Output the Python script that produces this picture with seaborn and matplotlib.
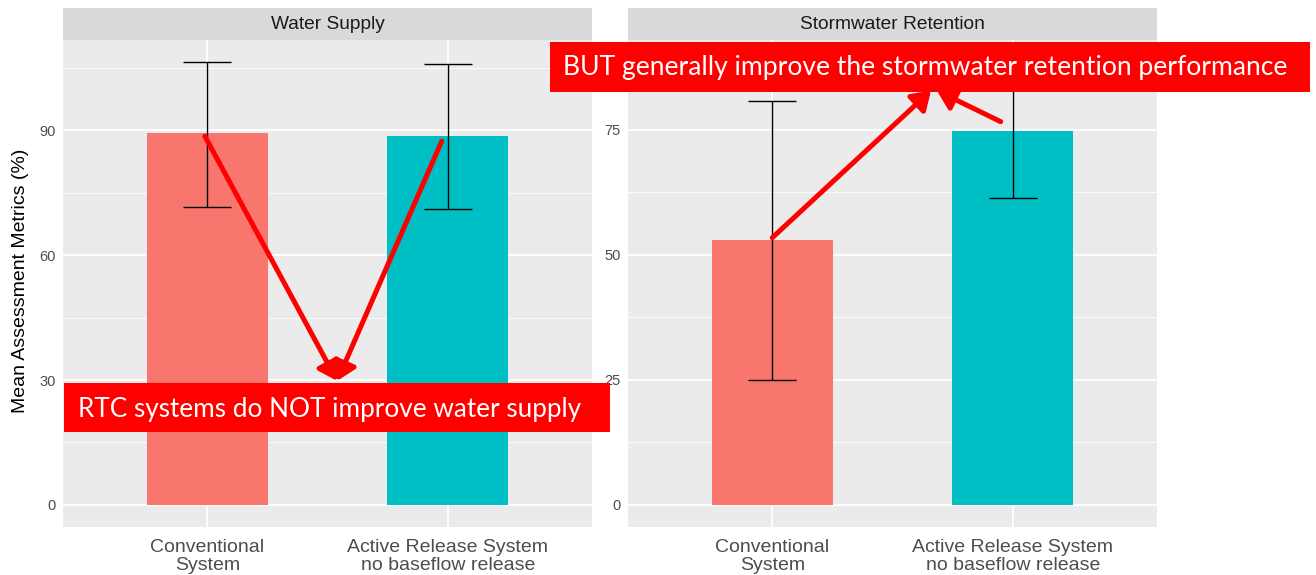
import matplotlib
matplotlib.use("Agg")
import matplotlib.pyplot as plt
from matplotlib.patches import Rectangle
import seaborn as sns
import numpy as np

# ---- data ----
categories = ["Conventional\nSystem", "Active Release System\nno baseflow release"]
panels = ["Water Supply", "Stormwater Retention"]
water_mean = [89.3, 88.6]
water_lo = [71.6, 71.0]
water_hi = [106.4, 105.9]
storm_mean = [53.0, 74.8]
storm_lo = [25.0, 61.3]
storm_hi = [80.8, 88.5]
water_ticks = [0, 30, 60, 90]
storm_ticks = [0, 25, 50, 75]
ylabel = "Mean Assessment Metrics (%)"
note_left = "RTC systems do NOT improve water supply"
note_right = "BUT generally improve the stormwater retention performance"
bar_colors = ["#F8766D", "#00BFC4"]

sns.set_theme(style="darkgrid")
plt.rcParams['font.family'] = ['Liberation Sans', 'DejaVu Sans']

W, H = 1316, 575
fig = plt.figure(figsize=(W / 100, H / 100), dpi=100)
fig.patch.set_facecolor("white")


def fx(px):
    return px / W


def fy(py):
    return 1 - py / H


panel_top, panel_bot = 40, 527
strip_top = 8
panel_lefts = [63, 628]
panel_w = 529


def draw_panel(left, title, means, lo, hi, ticks, show_ylabel):
    ax = fig.add_axes([fx(left), fy(panel_bot), panel_w / W, (panel_bot - panel_top) / H])
    sax = fig.add_axes([fx(left), fy(panel_top), panel_w / W, (panel_top - strip_top) / H])
    sax.set_facecolor("#D9D9D9")
    sax.set_xticks([]); sax.set_yticks([])
    for s in sax.spines.values():
        s.set_visible(False)
    sax.text(0.5, 0.47, title, ha="center", va="center", fontsize=13.8, color="#1A1A1A",
             transform=sax.transAxes)

    sns.barplot(x=categories, y=means, hue=categories, palette=bar_colors, width=0.505,
                errorbar=None, legend=False, ax=ax, zorder=3, saturation=1,
                linewidth=0, edgecolor="none")
    m = np.array(means)
    yerr = [m - np.array(lo), np.array(hi) - m]
    ax.errorbar(x=[0, 1], y=means, yerr=yerr, fmt="none", ecolor="black",
                elinewidth=1.0, capsize=17.3, capthick=1.0, zorder=4)
    top = max(hi)
    ax.set_ylim(-0.05 * top, top * 1.05)
    ax.set_xlim(-0.6, 1.6)
    ax.set_facecolor("#EBEBEB")
    for s in ax.spines.values():
        s.set_visible(False)
    ax.set_yticks(ticks)
    step = ticks[1] - ticks[0]
    minor = [t + step / 2 for t in ticks]
    ax.set_yticks(minor, minor=True)
    ax.grid(False)
    ax.grid(True, which="major", color="white", linewidth=1.3, zorder=0)
    ax.grid(True, which="minor", axis="y", color="white", linewidth=0.6, zorder=0)
    ax.set_axisbelow(True)
    ax.tick_params(axis="both", which="major", length=3.5, width=0.9, color="#333333",
                   labelcolor="#4D4D4D", direction="out")
    ax.tick_params(axis="y", which="minor", length=0)
    ax.tick_params(axis="y", labelsize=10.5, pad=2)
    ax.tick_params(axis="x", labelsize=14, pad=5)
    for lab in ax.get_xticklabels():
        lab.set_linespacing(1.12)
    ax.set_xlabel("")
    if show_ylabel:
        ax.set_ylabel(ylabel, fontsize=14, color="black")
        ax.yaxis.set_label_coords(-0.064, 0.505)
    else:
        ax.set_ylabel("")
    return ax


ax1 = draw_panel(panel_lefts[0], panels[0], water_mean, water_lo, water_hi, water_ticks, True)
ax2 = draw_panel(panel_lefts[1], panels[1], storm_mean, storm_lo, storm_hi, storm_ticks, False)

# ---- arrows ----
aprops = dict(arrowstyle="-|>,head_length=0.6,head_width=0.4", color="#FF0000", lw=3.6,
              mutation_scale=18, shrinkA=0, shrinkB=0)
ax1.annotate("", xy=(0.54, 29.8), xytext=(-0.01, 88.6), arrowprops=aprops,
             annotation_clip=False, zorder=6)
ax1.annotate("", xy=(0.54, 29.8), xytext=(0.975, 87.4), arrowprops=aprops,
             annotation_clip=False, zorder=6)
ax2.annotate("", xy=(0.66, 82.8), xytext=(0.0, 53.4), arrowprops=aprops,
             annotation_clip=False, zorder=6)
ax2.annotate("", xy=(0.685, 82.8), xytext=(0.95, 76.6), arrowprops=aprops,
             annotation_clip=False, zorder=6)

# ---- red note boxes ----
fig.patches.append(Rectangle((fx(64), fy(432)), (610 - 64) / W, (432 - 383) / H,
                             transform=fig.transFigure, facecolor="#FF0000",
                             edgecolor="none", zorder=10))
fig.text(fx(78), fy(409), note_left, ha="left", va="center", color="white",
         fontsize=18.8, family=["Lato", "DejaVu Sans"], zorder=11)
fig.patches.append(Rectangle((fx(550), fy(92)), (1310 - 550) / W, (92 - 42) / H,
                             transform=fig.transFigure, facecolor="#FF0000",
                             edgecolor="none", zorder=10))
fig.text(fx(563), fy(68), note_right, ha="left", va="center", color="white",
         fontsize=19.1, family=["Lato", "DejaVu Sans"], zorder=11)

fig.savefig("out.png", dpi=100)
